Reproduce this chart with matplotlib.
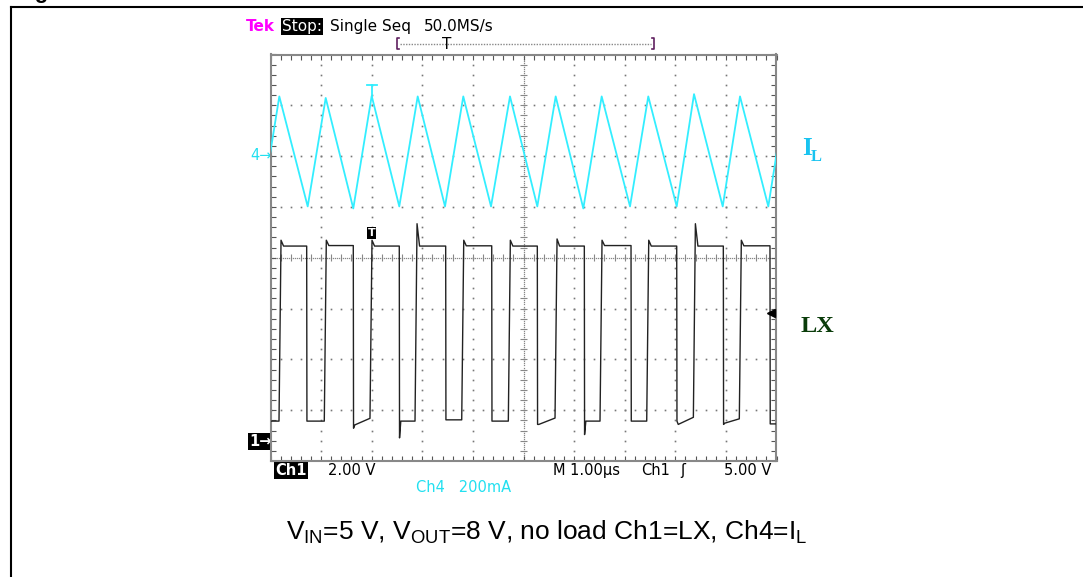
import numpy as np
import matplotlib
matplotlib.use("Agg")
import matplotlib.pyplot as plt

plt.rcParams["mathtext.fontset"] = "custom"
plt.rcParams["mathtext.rm"] = "Liberation Sans"
plt.rcParams["mathtext.it"] = "Liberation Sans"

# scope settings
ch1_v_per_div = 2.0
ch1_ground_div = -3.58
ch4_ma_per_div = 200.0
ch4_ground_div = 2.0
trig_time_us = 2.0
trig_level_v = 5.0

# Ch4 = inductor current (triangle corners)
il_valley_us = [-0.174, 0.735, 1.636, 2.545, 3.449, 4.358, 5.273, 6.182, 7.105, 8.028, 8.937, 9.838]
il_valley_ma = [-198, -198, -206, -198, -198, -198, -198, -206, -198, -198, -198, -198]
il_peak_us = [0.174, 1.091, 2.0, 2.909, 3.810, 4.733, 5.636, 6.545, 7.466, 8.370, 9.279, 10.18]
il_peak_ma = [235, 229, 237, 235, 235, 235, 235, 235, 235, 244, 235, 235]

# Ch1 = LX switching node
lx_rise_us = [0.168, 1.063, 1.966, 2.856, 3.779, 4.700, 5.623, 6.512, 7.435, 8.357, 9.265]
lx_fall_us = [0.715, 1.636, 2.545, 3.462, 4.372, 5.273, 6.202, 7.125, 8.028, 8.949, 9.871]
lx_high_v = [7.62, 7.64, 7.62, 7.62, 7.63, 7.62, 7.62, 7.64, 7.62, 7.62, 7.63]
lx_rise_peak_v = [7.85, 7.85, 7.85, 8.5, 7.85, 7.85, 7.9, 7.85, 7.85, 8.5, 7.85]
lx_fall_dip_v = [0.73, 0.45, 0.07, 0.78, 0.73, 0.6, 0.2, 0.73, 0.73, 0.6, 0.62]
lx_low_start_v = [0.73, 0.73, 0.58, 0.73, 0.78, 0.73, 0.6, 0.73, 0.73, 0.6, 0.65, 0.62]
lx_low_end_v = [0.73, 0.73, 0.84, 0.73, 0.78, 0.73, 0.85, 0.73, 0.73, 0.88, 0.82, 0.62]

# build traces
il_t, il_v = [], []
for tv, vv, tp, vp in zip(il_valley_us, il_valley_ma, il_peak_us, il_peak_ma):
    il_t += [tv, tp]
    il_v += [vv, vp]
il_div = ch4_ground_div + np.array(il_v) / ch4_ma_per_div

lx_t, lx_v = [0.0], [lx_low_start_v[0]]
for i in range(len(lx_rise_us)):
    r = lx_rise_us[i]
    f = lx_fall_us[i]
    lx_t += [r, r + 0.04, r + 0.09, f, f + 0.005, f + 0.03]
    lx_v += [lx_low_end_v[i], lx_rise_peak_v[i], lx_high_v[i], lx_high_v[i],
             lx_fall_dip_v[i], lx_low_start_v[i + 1]]
lx_t.append(10.0)
lx_v.append(lx_low_end_v[-1])
lx_div = ch1_ground_div + np.array(lx_v) / ch1_v_per_div

W, H = 1083, 577
fig = plt.figure(figsize=(W / 100, H / 100), dpi=100)

# pixel overlay for labels and frame
ov = fig.add_axes([0, 0, 1, 1])
ov.set_xlim(0, W)
ov.set_ylim(H, 0)
ov.axis("off")

ov.plot([11, W], [7, 7], color="black", lw=1.5, clip_on=False)
ov.plot([11, 11], [7, H], color="black", lw=1.5, clip_on=False)
ov.text(15, -2, "Figure 12.", fontsize=16, fontweight="bold", va="baseline",
        family="Liberation Sans")

mono = dict(family="DejaVu Sans", fontsize=11, va="baseline")
ov.text(246, 31, "Tek", color="#ff00ff", fontweight="bold", **mono)
ov.text(282, 31, "Stop:", color="white",
        bbox=dict(facecolor="black", edgecolor="none", pad=0.8), **mono)
ov.text(330, 31, "Single Seq", color="black", **mono)
ov.text(424, 31, "50.0MS/s", color="black", **mono)

# record-length bracket
ov.plot([399, 397, 397, 399], [38, 38, 49, 49], color="#602060", lw=1.2)
ov.plot([652, 654, 654, 652], [38, 38, 49, 49], color="#602060", lw=1.2)
ov.plot([400, 651], [43.5, 43.5], color="#888888", lw=1, ls=(0, (1, 1)))
ov.text(447, 49, "T", color="black", ha="center", **mono)

small = dict(family="DejaVu Sans", fontsize=10.5, va="baseline")
ov.text(275, 475, "Ch1", color="white", fontweight="bold",
        bbox=dict(facecolor="black", edgecolor="none", pad=0.8), **small)
ov.text(328, 475, "2.00 V", color="black", **small)
ov.text(553, 475, "M 1.00\u00b5s", color="black", **small)
ov.text(641, 475, "Ch1", color="black", **small)
ov.text(680, 475, "\u0283", color="black", **small)
ov.text(724, 475, "5.00 V", color="black", **small)
ov.text(416, 492, "Ch4   200mA", color="#22e0f0", **small)

ov.text(250, 160, "4\u2192", color="#22e0f0", **small)
ov.text(249, 446, "1\u2192", color="white", fontweight="bold",
        bbox=dict(facecolor="black", edgecolor="none", pad=0.8), **small)

ov.text(802, 155, "I", color="#19c3f0", fontsize=18, fontweight="bold",
        family="Liberation Serif", va="baseline")
ov.text(811, 161, "L", color="#19c3f0", fontsize=12, fontweight="bold",
        family="Liberation Serif", va="baseline")
ov.text(801, 332, "LX", color="#0a3c0a", fontsize=17.5, fontweight="bold",
        family="Liberation Serif", va="baseline")

ov.text(547, 540, r"V$_{\rm IN}$=5 V, V$_{\rm OUT}$=8 V, no load Ch1=LX, Ch4=I$_{\rm L}$",
        ha="center", va="baseline", fontsize=19, family="Liberation Sans")

# scope graticule
ax = fig.add_axes([270.5 / W, (H - 461) / H, 506 / W, 406.5 / H])
ax.set_xlim(0, 10)
ax.set_ylim(-4, 4)
for s in ax.spines.values():
    s.set_color("#888888")
    s.set_linewidth(1.5)
ax.set_xticks(np.arange(0, 10.01, 0.2))
ax.set_yticks(np.arange(-4, 4.01, 0.2))
ax.tick_params(direction="in", length=3.5, width=0.8, color="#555555",
               top=True, right=True, labelbottom=False, labelleft=False)

dots_x = np.arange(0, 10.001, 0.2)
dots_y = np.arange(-4, 4.001, 0.2)
for gx in range(1, 10):
    if gx != 5:
        ax.plot(np.full_like(dots_y, gx), dots_y, "s", ms=1.2, color="#777777", mew=0, zorder=1)
for gy in range(-3, 4):
    if gy != 0:
        ax.plot(dots_x, np.full_like(dots_x, gy), "s", ms=1.2, color="#777777", mew=0, zorder=1)
dense_x = np.arange(0, 10.001, 0.04)
dense_y = np.arange(-4, 4.001, 0.04)
ax.plot(dense_x, np.zeros_like(dense_x), "s", ms=0.9, color="#888888", mew=0, zorder=1)
ax.plot(np.full_like(dense_y, 5), dense_y, "s", ms=0.9, color="#888888", mew=0, zorder=1)
ax.vlines(dots_x, -0.07, 0.07, color="#888888", lw=0.8, zorder=1)
ax.hlines(dots_y, 4.93, 5.07, color="#888888", lw=0.8, zorder=1)

ax.plot(il_t, il_div, color="#33eeff", lw=1.3, zorder=3)
ax.plot(lx_t, lx_div, color="#222222", lw=1.0, zorder=4)

# trigger markers
ax.text(trig_time_us, 0.49, "T", ha="center", va="center", color="white",
        fontsize=8, fontweight="bold", family="DejaVu Sans",
        bbox=dict(facecolor="black", edgecolor="none", pad=0.6), zorder=5)
ax.plot([trig_time_us - 0.1, trig_time_us + 0.1], [3.4, 3.4], color="#33eeff", lw=1.3, zorder=3)
ax.plot([trig_time_us, trig_time_us], [3.4, 3.18], color="#33eeff", lw=1.3, zorder=3)
trig_div = ch1_ground_div + trig_level_v / ch1_v_per_div
ax.plot([9.9], [trig_div], marker="<", ms=6, color="black", clip_on=False, zorder=5)

fig.savefig("out.png", dpi=100)
